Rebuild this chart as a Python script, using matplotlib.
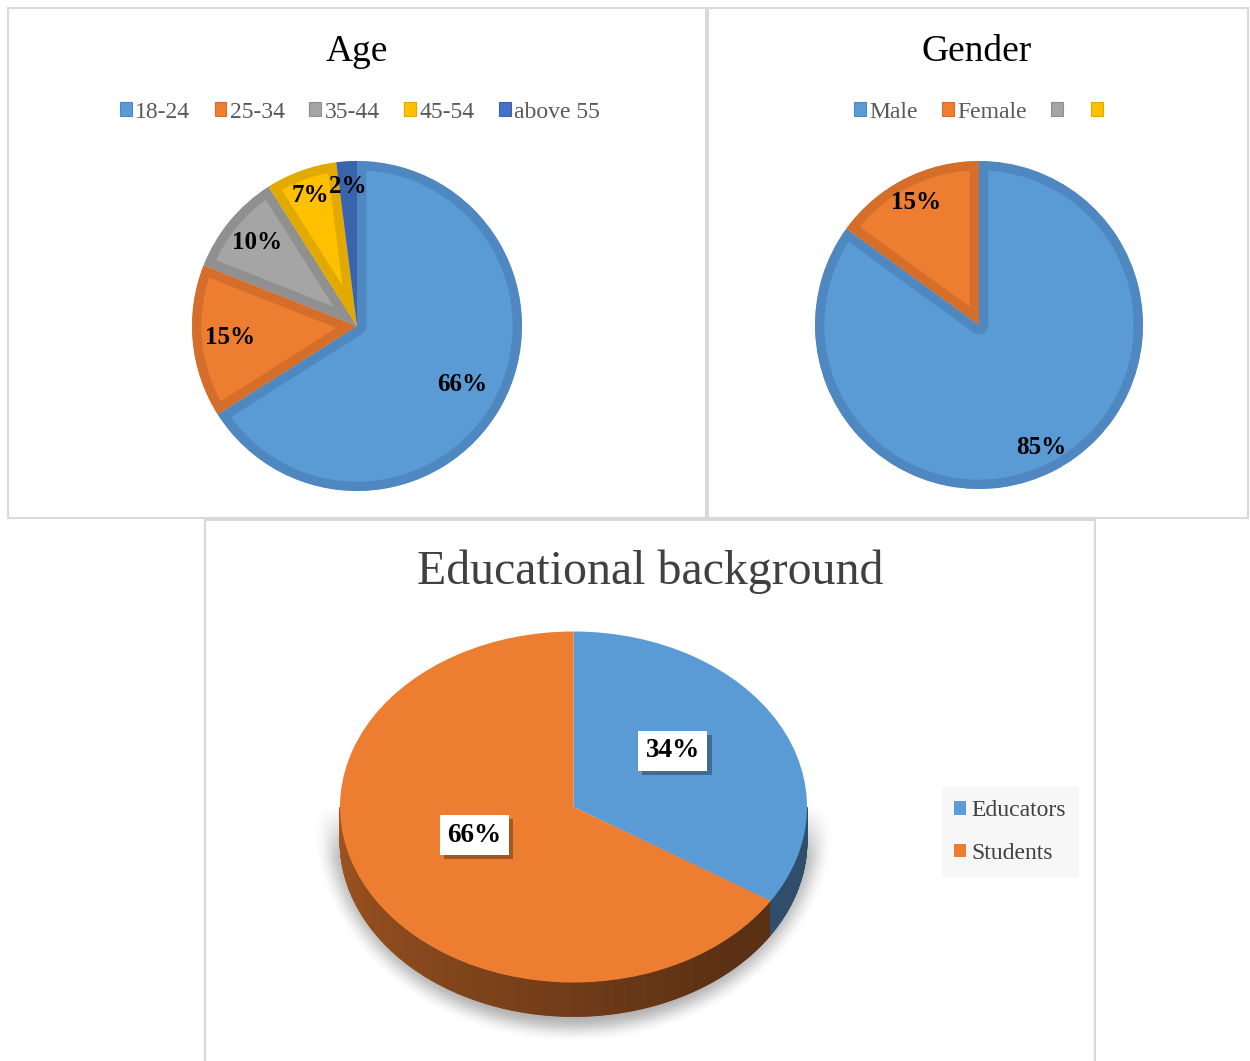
#!/usr/bin/env python3

"""Survey profile: age, gender and educational background pies."""

import numpy as np
import matplotlib.pyplot as plt
from matplotlib.patches import Patch, Polygon, Rectangle
import matplotlib.patheffects as pe

plt.rcParams['font.family'] = ['Liberation Serif', 'DejaVu Serif']

# * Data

age_labels = ['18-24', '25-34', '35-44', '45-54', 'above 55']
age_values = [66, 15, 10, 7, 2]
age_colors = ['#5B9BD5', '#ED7D31', '#A5A5A5', '#FFC000', '#4472C4']
age_edges = ['#4F88C0', '#D46E2A', '#909090', '#E2AA00', '#3A63AE']

gender_labels = ['Male', 'Female', '', '']
gender_values = [85, 15]
gender_colors = ['#5B9BD5', '#ED7D31', '#A5A5A5', '#FFC000']
gender_edges = ['#4F88C0', '#D46E2A', '#909090', '#E2AA00']

edu_labels = ['Educators', 'Students']
edu_values = [34, 66]
edu_colors = ['#5B9BD5', '#ED7D31']

# * Figure, sized in pixels

W, H = 1250, 1061
fig = plt.figure(figsize=(W / 100, H / 100), dpi=100)


def px_axes(cx, cy, hw, hh):
    """Axes centred on pixel (cx, cy) with half sizes hw, hh (y down)."""
    return fig.add_axes([(cx - hw) / W, 1 - (cy + hh) / H, 2 * hw / W, 2 * hh / H])


def fx(x):
    return x / W


def fy(y):
    return 1 - y / H


# Panel borders.
for x0, y0, x1, y1 in [(8, 8, 706, 518), (708, 8, 1248, 518), (205, 520, 1095, 1066)]:
    fig.add_artist(Rectangle((fx(x0), fy(y1)), (x1 - x0) / W, (y1 - y0) / H,
                             transform=fig.transFigure, fill=False,
                             edgecolor='#d9d9d9', lw=1.5))


def flat_pie(ax, values, colors, edges, label_r):
    wedges, texts, pcts = ax.pie(values, colors=colors[:len(values)], startangle=90,
                                 counterclock=False, radius=1,
                                 autopct=lambda p: '{:.0f}%'.format(p),
                                 pctdistance=0.8,
                                 wedgeprops=dict(linewidth=13.5, joinstyle='round'),
                                 textprops=dict(fontsize=18, fontweight='bold',
                                                color='black'))
    for w, ec, t, r in zip(wedges, edges, pcts, label_r):
        w.set_edgecolor(ec)
        # keep only the inner half of the thick edge
        w.set_clip_on(True)
        w.set_clip_path(w)
        ang = np.deg2rad((w.theta1 + w.theta2) / 2)
        t.set_position((r * np.cos(ang), r * np.sin(ang)))
    ax.set_xlim(-1.25, 1.25)
    ax.set_ylim(-1.25, 1.25)
    ax.set_aspect('equal')


leg_kw = dict(loc='center', frameon=False, fontsize=17, labelcolor='#595959',
              handlelength=0.5, handleheight=0.5, handletextpad=0.15, columnspacing=1.03)

# * Age

ax1 = px_axes(357, 326, 1.25 * 165, 1.25 * 165)
flat_pie(ax1, age_values, age_colors, age_edges, [0.73, 0.77, 0.79, 0.84, 0.85])
fig.text(fx(357), fy(52), 'Age', fontsize=27, ha='center', va='center', color='black')
fig.legend(handles=[Patch(facecolor=c, edgecolor=e, lw=0.8) for c, e in zip(age_colors, age_edges)],
           labels=age_labels, bbox_to_anchor=(fx(360), fy(112)), ncol=5, **leg_kw)

# * Gender

ax2 = px_axes(979, 325, 1.25 * 164, 1.25 * 164)
flat_pie(ax2, gender_values, gender_colors, gender_edges, [0.84, 0.84])
fig.text(fx(977), fy(52), 'Gender', fontsize=27, ha='center', va='center', color='black')
fig.legend(handles=[Patch(facecolor=c, edgecolor=e, lw=0.8) for c, e in zip(gender_colors, gender_edges)],
           labels=gender_labels, bbox_to_anchor=(fx(980), fy(112)), ncol=4, **leg_kw)

# * Educational background (3D-looking pie)

RX, RY = 233.5, 175.5
CX, CY = 573.5, 807
XL, YT, YB = 1.35, 1.2, 1.45
ax3 = fig.add_axes([fx(CX - XL * RX), fy(CY + YB * RY), 2 * XL * RX / W, (YT + YB) * RY / H])

depth = 34 / RY

# Soft shadow below the pie, fading in towards its middle line.
gx, gy = np.meshgrid(np.linspace(-XL, XL, 400), np.linspace(-YB, 0.3, 300))
rho_out = np.sqrt((gx / 1.12) ** 2 + ((gy + 0.1) / 1.25) ** 2)
rho_in = np.sqrt((gx / 0.99) ** 2 + ((gy + 0.1) / 1.1) ** 2)
s = np.clip((1 - rho_out) / np.maximum(rho_in - rho_out, 1e-6), 0, 1)
s = s * s * (3 - 2 * s)
fade = np.clip((0.0 - gy) / 0.3, 0, 1)
shadow = np.zeros(gx.shape + (4,))
shadow[..., :3] = 0.4
shadow[..., 3] = 0.5 * s * fade * (rho_out < 1)
ax3.imshow(shadow, extent=(-XL, XL, -YB, 0.3), origin='lower', aspect='auto',
           interpolation='bilinear', zorder=0.2)

# Side wall, shaded by angle.
split = 90 - 360 * edu_values[0] / sum(edu_values) + 360
rgb = [np.array(plt.matplotlib.colors.to_rgb(c)) for c in edu_colors]
for t in np.arange(180, 360, 0.5):
    a1, a2 = np.deg2rad(t), np.deg2rad(t + 0.5)
    if t + 0.25 < split:
        f = max(0.38, 0.68 - 0.32 * (t - 180) / 140)
        col = rgb[1] * f
    else:
        col = rgb[0] * 0.5
    pts = [(np.cos(a1), np.sin(a1)), (np.cos(a2), np.sin(a2)),
           (np.cos(a2), np.sin(a2) - depth), (np.cos(a1), np.sin(a1) - depth)]
    ax3.add_patch(Polygon(pts, closed=True, facecolor=col, edgecolor=col, lw=0.6, zorder=0.5))

wedges3, _, pcts3 = ax3.pie(edu_values, colors=edu_colors, startangle=90,
                            counterclock=False, radius=1,
                            autopct=lambda p: '{:.0f}%'.format(p), pctdistance=0.5,
                            wedgeprops=dict(edgecolor='none'),
                            textprops=dict(fontsize=19.5, fontweight='bold', color='black'))
for t in pcts3:
    x, y = t.get_position()
    t.set_position((x * 0.97, y + 0.08))
    t.set_zorder(5)
    t.set_bbox(dict(boxstyle='square,pad=0.28', facecolor='white', edgecolor='none'))
    t.get_bbox_patch().set_path_effects([
        pe.SimplePatchShadow(offset=(3, -3), shadow_rgbFace='black', alpha=0.3),
        pe.Normal()])

ax3.set_xlim(-XL, XL)
ax3.set_ylim(-YB, YT)
ax3.set_aspect('auto')
ax3.axis('off')

fig.text(fx(650), fy(572), 'Educational background', fontsize=34.5,
         ha='center', va='center', color='#404040')

fig.legend(handles=[Patch(facecolor=c, edgecolor='none') for c in edu_colors],
           labels=edu_labels, loc='center', bbox_to_anchor=(fx(1010), fy(832)),
           ncol=1, frameon=True, facecolor='#f7f7f7', edgecolor='none', fancybox=False,
           framealpha=1, fontsize=17, labelcolor='#404040', labelspacing=0.9,
           handlelength=0.5, handleheight=0.5, handletextpad=0.2, borderpad=0.55)

fig.savefig('out.png', dpi=100)
